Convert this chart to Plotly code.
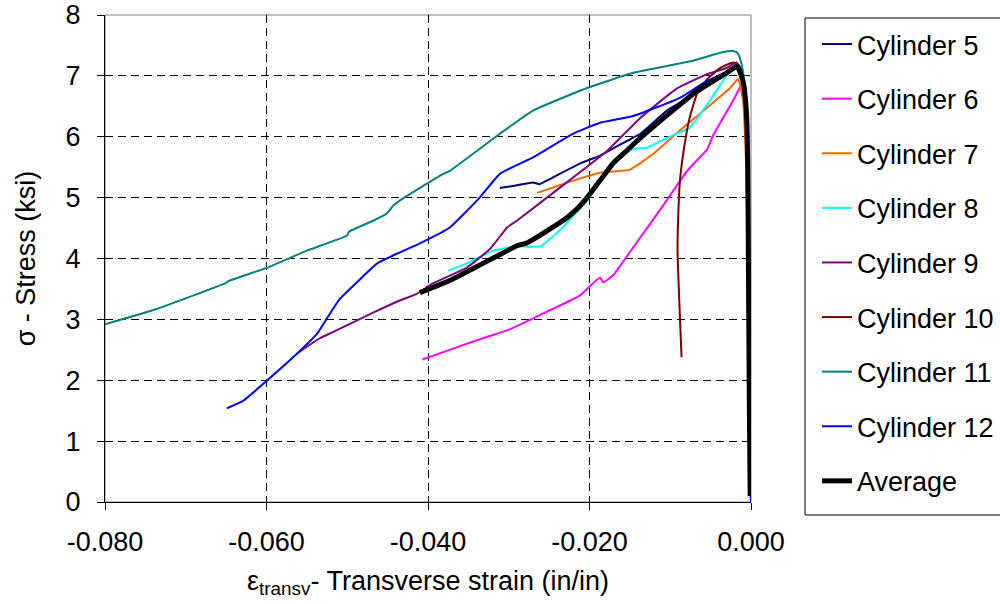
import plotly.graph_objects as go

# ---------------- data ----------------
names = ["Cylinder 5", "Cylinder 6", "Cylinder 7", "Cylinder 8", "Cylinder 9",
         "Cylinder 10", "Cylinder 11", "Cylinder 12", "Average"]

cyl5_x = [0, -0.0001, -0.0002, -0.0004, -0.0008, -0.0012, -0.0018, -0.0030, -0.0063, -0.0104,
          -0.0137, -0.0154, -0.0187, -0.0212, -0.0253, -0.0262, -0.0270, -0.0295, -0.0311]
cyl5_y = [0, 1.5, 3.5, 5.5, 6.7, 7.0, 7.12, 7.03, 6.75, 6.43,
          6.05, 5.93, 5.69, 5.56, 5.28, 5.22, 5.25, 5.19, 5.16]

cyl6_x = [0, -0.0001, -0.0002, -0.0004, -0.0007, -0.0010, -0.0014, -0.0022, -0.0035, -0.0047,
          -0.0054, -0.0079, -0.0113, -0.0146, -0.0171, -0.0183, -0.0187, -0.0212, -0.0249,
          -0.0298, -0.0332, -0.0369, -0.0407]
cyl6_y = [0, 1.5, 3.5, 5.5, 6.6, 6.92, 6.80, 6.60, 6.30, 6.02,
          5.80, 5.44, 4.79, 4.18, 3.72, 3.61, 3.69, 3.39, 3.15,
          2.84, 2.69, 2.52, 2.34]

cyl7_x = [0, -0.0001, -0.0003, -0.0006, -0.0010, -0.0016, -0.0026, -0.0054, -0.0084, -0.0121,
          -0.0150, -0.0187, -0.0220, -0.0262, -0.0265]
cyl7_y = [0, 1.5, 3.5, 5.5, 6.6, 6.95, 6.80, 6.48, 6.15, 5.72,
          5.46, 5.41, 5.28, 5.09, 5.08]

cyl8_x = [0, -0.0001, -0.0002, -0.0004, -0.0008, -0.0013, -0.0018, -0.0026, -0.0051, -0.0076,
          -0.0104, -0.0129, -0.0146, -0.0171, -0.0203, -0.0237, -0.0261, -0.0290, -0.0319,
          -0.0352, -0.0375]
cyl8_y = [0, 1.5, 3.5, 5.5, 6.7, 7.0, 7.12, 7.08, 6.59, 6.15,
          5.98, 5.82, 5.80, 5.56, 4.95, 4.46, 4.20, 4.20, 4.13,
          3.92, 3.80]

cyl9_x = [0, -0.0001, -0.0002, -0.0004, -0.0008, -0.0012, -0.0018, -0.0030, -0.0054, -0.0092,
          -0.0137, -0.0178, -0.0237, -0.0290, -0.0302, -0.0323, -0.0352, -0.0394, -0.0414,
          -0.0435, -0.0468, -0.0518, -0.0534, -0.0562]
cyl9_y = [0, 1.5, 3.5, 5.5, 6.8, 7.1, 7.22, 7.13, 7.03, 6.79,
          6.31, 5.77, 5.16, 4.62, 4.51, 4.16, 3.85, 3.59, 3.42,
          3.31, 3.11, 2.79, 2.69, 2.44]

cyl10_x = [0, -0.0001, -0.0002, -0.0004, -0.0008, -0.0013, -0.0022, -0.0038, -0.0054, -0.0067,
           -0.0076, -0.0082, -0.0088, -0.0090, -0.0091, -0.0089, -0.0088, -0.0086]
cyl10_y = [0, 1.5, 3.5, 5.5, 6.8, 7.1, 7.22, 7.13, 6.95, 6.70,
           6.31, 5.89, 5.28, 4.74, 4.13, 3.36, 3.03, 2.38]

cyl11_x = [0, -0.0002, -0.0003, -0.0005, -0.0008, -0.0010, -0.0014, -0.0017, -0.0022, -0.0038,
           -0.0072, -0.0146, -0.0203, -0.0270, -0.0311, -0.0373, -0.0381, -0.0410, -0.0435,
           -0.0443, -0.0451, -0.0468, -0.0498, -0.0500, -0.0550, -0.0599, -0.0647, -0.0650,
           -0.0691, -0.0741, -0.0800]
cyl11_y = [0, 2.0, 4.0, 6.0, 6.8, 7.08, 7.30, 7.38, 7.41, 7.38,
           7.25, 7.05, 6.80, 6.43, 6.05, 5.44, 5.39, 5.16, 4.95,
           4.87, 4.74, 4.62, 4.44, 4.38, 4.13, 3.85, 3.63, 3.60,
           3.39, 3.15, 2.92]

cyl12_x = [0, -0.0001, -0.0002, -0.0004, -0.0008, -0.0012, -0.0017, -0.0022, -0.0054, -0.0088,
           -0.0146, -0.0187, -0.0220, -0.0270, -0.0311, -0.0336, -0.0373, -0.0410, -0.0435,
           -0.0463, -0.0488, -0.0509, -0.0525, -0.0537, -0.0562, -0.0599, -0.0629, -0.0649]
cyl12_y = [0, 1.5, 3.5, 5.5, 6.7, 7.0, 7.13, 7.11, 6.92, 6.64,
           6.34, 6.23, 6.05, 5.66, 5.39, 5.0, 4.51, 4.25, 4.10,
           3.92, 3.61, 3.34, 3.02, 2.77, 2.44, 2.0, 1.66, 1.54]

avg_x = [-0.0001, -0.0002, -0.0003, -0.0004, -0.0005, -0.0007, -0.0010, -0.0017, -0.0030, -0.0063,
         -0.0097, -0.0137, -0.0154, -0.0171, -0.0187, -0.0203, -0.0215, -0.0228, -0.0258,
         -0.0277, -0.0290, -0.0310, -0.0332, -0.0373, -0.0410]
avg_y = [0.1, 1.5, 3.5, 5.5, 6.2, 6.64, 6.92, 7.16, 7.05, 6.79,
         6.43, 5.98, 5.77, 5.56, 5.28, 5.0, 4.82, 4.67, 4.41,
         4.26, 4.21, 4.07, 3.92, 3.64, 3.44]

x_tickvals = [-0.08, -0.06, -0.04, -0.02, 0.0]
x_ticktext = ["-0.080", "-0.060", "-0.040", "-0.020", "0.000"]
y_tickvals = [0, 1, 2, 3, 4, 5, 6, 7, 8]

# ---------------- styling ----------------
series = [
    (cyl5_x, cyl5_y, "#000080", 2),
    (cyl6_x, cyl6_y, "#FF00FF", 2),
    (cyl7_x, cyl7_y, "#FF6600", 2),
    (cyl8_x, cyl8_y, "#00FFFF", 2),
    (cyl9_x, cyl9_y, "#800080", 2),
    (cyl10_x, cyl10_y, "#800000", 2),
    (cyl11_x, cyl11_y, "#008080", 2),
    (cyl12_x, cyl12_y, "#0000FF", 2),
    (avg_x, avg_y, "#000000", 5),
]

FONT = "Liberation Sans, Arial, sans-serif"
FS = 27

fig = go.Figure()
for name, (xs, ys, col, w) in zip(names, series):
    fig.add_trace(go.Scatter(x=xs, y=ys, mode="lines", name=name, legendgroup=name,
                             line=dict(color=col, width=w, shape="spline", smoothing=0.4)))

axis_common = dict(
    showline=True, linecolor="#000000", linewidth=1,
    ticks="outside", ticklen=7, tickcolor="#000000", tickwidth=1,
    showgrid=True, gridcolor="#000000", gridwidth=1, griddash="8px,5px",
    zeroline=False, automargin=False,
    tickfont=dict(family=FONT, size=FS, color="#000000"),
)

fig.update_layout(
    width=1000, height=604,
    paper_bgcolor="white", plot_bgcolor="white",
    margin=dict(l=105, r=249, t=15, b=102, autoexpand=False),
    font=dict(family=FONT, size=FS, color="#000000"),
    xaxis=dict(range=[-0.08, 0], tickvals=x_tickvals, ticktext=x_ticktext,
               title=dict(text="ε<sub>transv</sub>- Transverse strain (in/in)",
                          font=dict(family=FONT, size=FS), standoff=14),
               ticklabelstandoff=9, **axis_common),
    yaxis=dict(range=[0, 8], tickvals=y_tickvals,
               title=dict(text="σ - Stress (ksi)", font=dict(family=FONT, size=FS), standoff=22),
               ticklabelstandoff=11, **axis_common),
    legend=dict(x=(817 - 105) / 646, y=(502 - 20) / 487, xanchor="left", yanchor="top",
                bgcolor="rgba(0,0,0,0)", borderwidth=0, maxheight=580,
                font=dict(family=FONT, size=FS, color="#000000"),
                itemwidth=30, tracegroupgap=16.5),
    showlegend=True,
)

# plot-area border (top / right in grey) and legend frame
fig.add_shape(type="rect", xref="paper", yref="paper", x0=0, x1=1, y0=0, y1=1,
              line=dict(color="#808080", width=1), layer="below")
fig.add_shape(type="rect", xref="paper", yref="paper",
              x0=(805 - 105) / 646, x1=(1010 - 105) / 646,
              y0=(502 - 515) / 487, y1=(502 - 18) / 487,
              line=dict(color="#000000", width=1))

fig.write_html("out.html")
